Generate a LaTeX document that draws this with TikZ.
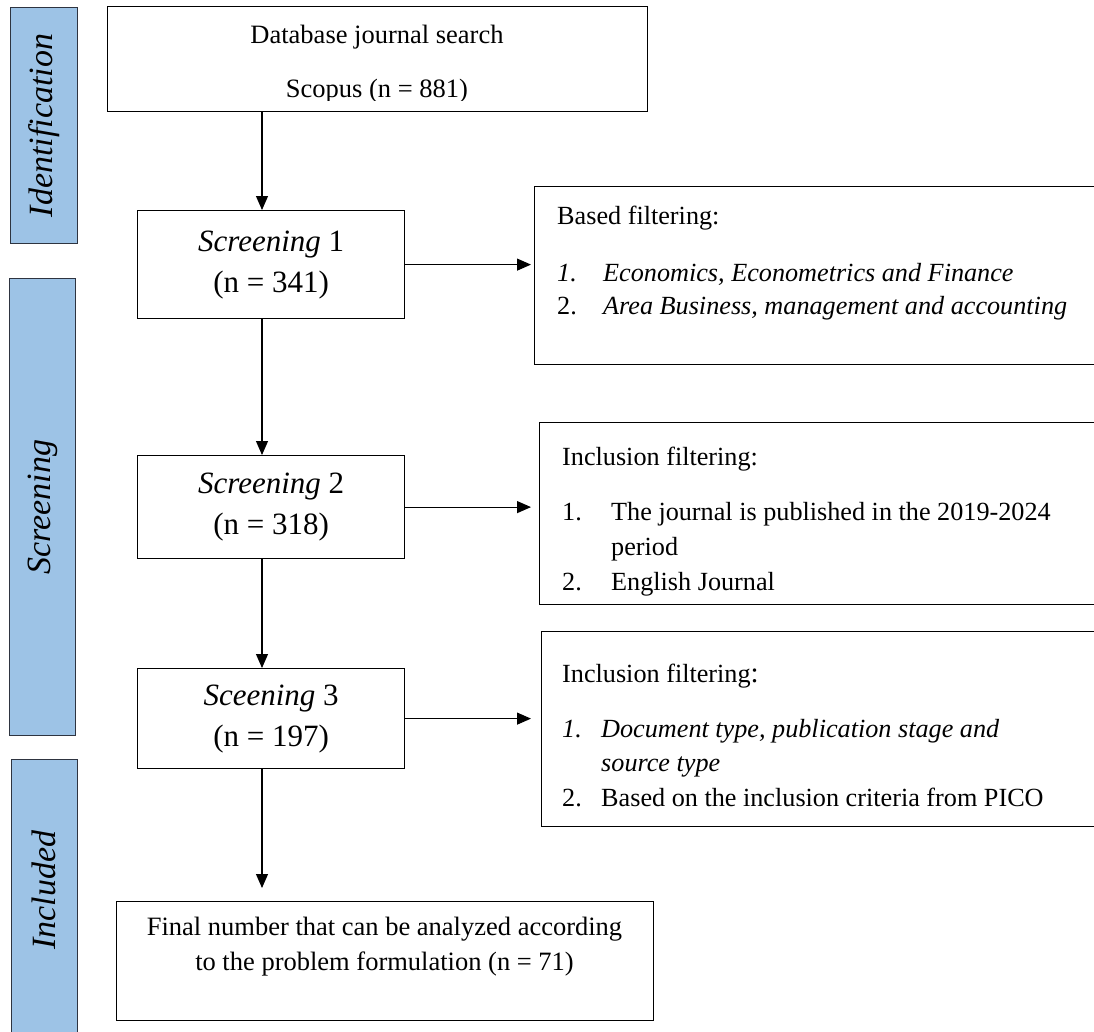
\documentclass[tikz,border=0pt]{standalone}
\usepackage{fontspec}
\setmainfont{Liberation Serif}
\usetikzlibrary{arrows.meta}
\definecolor{barblue}{HTML}{9DC3E6}
\definecolor{barline}{HTML}{2E3440}
\begin{document}
\begin{tikzpicture}[x=1pt,y=-1pt,
  box/.style={draw=black, line width=1.2pt, inner sep=0pt, anchor=north west},
  bar/.style={draw=barline, fill=barblue, line width=1pt, inner sep=0pt, anchor=north west},
  barlabel/.style={rotate=90, font=\fontsize{34}{34}\selectfont\itshape, inner sep=0pt},
  arr/.style={draw=black, line width=1.1pt, -{Triangle[length=14pt,width=12pt]}},
  sbox/.style={box, minimum width=267pt, align=center, font=\fontsize{31}{41}\selectfont},
  mtxt/.style={font=\fontsize{26.5}{30}\selectfont, inner sep=0pt, anchor=base},
  rtxt/.style={font=\fontsize{26.2}{30}\selectfont, inner sep=0pt, anchor=base west}]
\useasboundingbox (0,0) rectangle (1094,1031);

% phase bars
\node[bar, minimum width=67pt, minimum height=236pt] (bid) at (10,7) {};
\node[barlabel] (lid) at (bid.center) {Identification};
\node[bar, minimum width=66pt, minimum height=457pt] (bsc) at (9,278) {};
\node[barlabel] (lsc) at (bsc.center) {Screening};
\node[bar, minimum width=66pt, minimum height=290pt] (bin) at (11,759) {};
\node[barlabel] (lin) at (44,890) {Included};

% top box
\node[box, minimum width=540pt, minimum height=105pt] (top) at (107,6) {};
\node[mtxt] (t1) at (377,43) {Database journal search};
\begin{scope}
  \clip (107,6) rectangle (647,100);
  \node[mtxt] (t2) at (377,97) {Scopus (n = 881)};
\end{scope}

% screening boxes
\node[sbox, minimum height=108pt] (s1) at (137,210) {\textit{Screening} 1\\(n = 341)};
\node[sbox, minimum height=103pt] (s2) at (137,455) {\textit{Screening} 2\\(n = 318)};
\node[sbox, minimum height=100pt] (s3) at (137,668) {\textit{Sceening} 3\\(n = 197)};

% final box
\node[box, minimum width=537pt, minimum height=119pt] (fin) at (116,901) {};
\node[mtxt] (f1) at (384.5,935) {Final number that can be analyzed according};
\node[mtxt] (f2) at (384.5,970) {to the problem formulation (n = 71)};

% right box 1
\node[box, minimum width=575pt, minimum height=178pt] (r1) at (534,186) {};
\node[rtxt] (r1a) at (557,224) {Based filtering:};
\node[rtxt] (r1b) at (557,281) {\textit{1.}};
\node[rtxt] (r1c) at (603,281) {\textit{Economics, Econometrics and Finance}};
\node[rtxt] (r1d) at (557,314) {2.};
\node[rtxt] (r1e) at (603,314) {\textit{Area Business, management and accounting}};

% right box 2
\node[box, minimum width=570pt, minimum height=182pt] (r2) at (539,422) {};
\node[rtxt] (r2a) at (562,465) {Inclusion filtering:};
\node[rtxt] (r2b) at (562,520) {1.};
\node[rtxt] (r2c) at (611,520) {The journal is published in the 2019-2024};
\node[rtxt] (r2d) at (611,555) {period};
\node[rtxt] (r2e) at (562,590) {2.};
\node[rtxt] (r2f) at (611,590) {English Journal};

% right box 3
\node[box, minimum width=568pt, minimum height=195pt] (r3) at (541,631) {};
\node[rtxt] (r3a) at (562,682) {Inclusion filtering{\fontsize{29}{29}\selectfont :}};
\node[rtxt] (r3b) at (562,737) {\textit{1.}};
\node[rtxt] (r3c) at (601,737) {\textit{Document type, publication stage and}};
\node[rtxt] (r3d) at (601,771) {\textit{source type}};
\node[rtxt] (r3e) at (562,806) {2.};
\node[rtxt] (r3f) at (601,806) {Based on the inclusion criteria from PICO};

% connectors
\coordinate (ax) at (262,0);
\draw[arr] (top.south -| ax) -- (s1.north -| ax);
\draw[arr] (s1.south -| ax) -- (s2.north -| ax);
\draw[arr] (s2.south -| ax) -- (s3.north -| ax);
\draw[arr, shorten >=13pt] (s3.south -| ax) -- (fin.north -| ax);
\draw[arr, shorten >=3pt] (s1.east) -- (s1.east -| r1.west);
\draw[arr, shorten >=8pt] (s2.east) -- (s2.east -| r2.west);
\draw[arr, shorten >=10pt] (s3.east) -- (s3.east -| r3.west);
\end{tikzpicture}
\end{document}
